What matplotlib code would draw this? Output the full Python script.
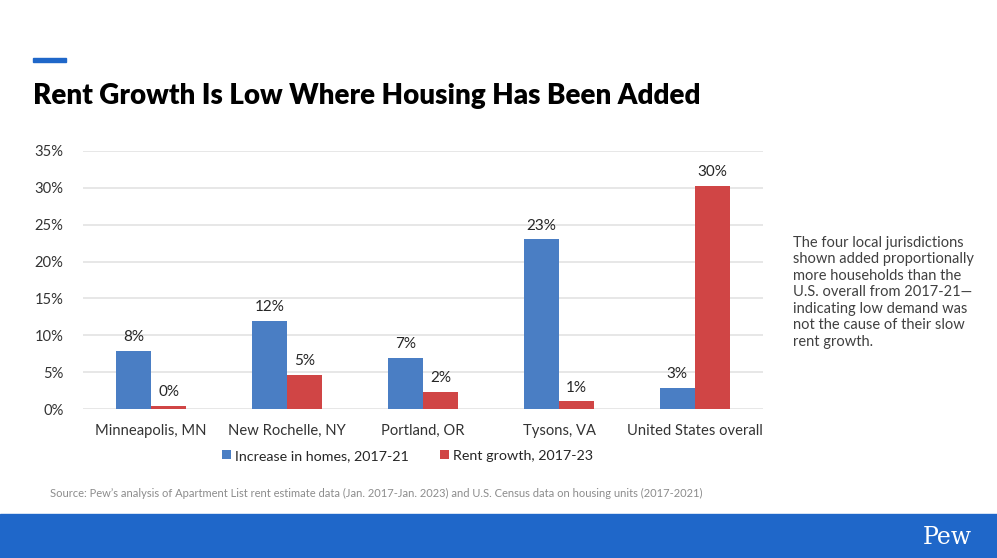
import matplotlib.pyplot as plt
from matplotlib.patches import Rectangle
import numpy as np

plt.rcParams['font.family'] = ['Lato', 'DejaVu Sans']

# data
places = ["Minneapolis, MN", "New Rochelle, NY", "Portland, OR", "Tysons, VA", "United States overall"]
homes_increase = [7.9, 11.95, 6.95, 23.0, 2.9]
rent_growth = [0.4, 4.6, 2.35, 1.05, 30.3]
series_names = ["Increase in homes, 2017-21", "Rent growth, 2017-23"]
y_ticks = [0, 5, 10, 15, 20, 25, 30, 35]

blue = "#4a7ec4"
red = "#d04545"
pew_blue = "#1f67c9"

fig = plt.figure(figsize=(9.97, 5.58), dpi=100)
ax = fig.add_axes([0.0833, 0.267, 0.682, 0.4624])

x = np.arange(len(places))
w = 0.26
b1 = ax.bar(x - w / 2, homes_increase, w, color=blue, label=series_names[0])
b2 = ax.bar(x + w / 2, rent_growth, w, color=red, label=series_names[1])

for bars, vals in [(b1, homes_increase), (b2, rent_growth)]:
    for rect, v in zip(bars, vals):
        ax.text(rect.get_x() + rect.get_width() / 2, v + 0.9, "{:.0f}%".format(v),
                ha="center", va="bottom", fontsize=11, color="#262626")

ax.set_xlim(-0.5, len(places) - 0.5)
ax.set_ylim(0, 35)
ax.set_yticks(y_ticks)
ax.set_yticklabels(["{}%".format(t) for t in y_ticks])
ax.set_xticks(x)
ax.set_xticklabels(places)
ax.tick_params(axis="both", length=0, labelsize=10.6, labelcolor="#333333")
ax.tick_params(axis="y", pad=14)
ax.tick_params(axis="x", pad=11)
ax.grid(axis="y", color="#e3e3e3", linewidth=1.2)
ax.set_axisbelow(True)
for s in ax.spines.values():
    s.set_visible(False)

fig.legend(handles=[b1, b2], loc="center", bbox_to_anchor=(0.409, 0.183), ncol=2,
           frameon=False, fontsize=10.3, handlelength=0.6, handleheight=0.6,
           handletextpad=0.3, columnspacing=2.2, labelcolor="#262626")

# header
fig.patches.append(Rectangle((0.033, 0.889), 0.033, 0.007, transform=fig.transFigure,
                             color=pew_blue, zorder=3))
fig.text(0.033, 0.828, "Rent Growth Is Low Where Housing Has Been Added",
         fontsize=20, fontweight="heavy", color="#000000", va="center", ha="left")

# side note
note = ("The four local jurisdictions\nshown added proportionally\nmore households than the\n"
        "U.S. overall from 2017-21\u2014\nindicating low demand was\nnot the cause of their slow\n"
        "rent growth.")
fig.text(0.795, 0.577, note, fontsize=10.5, color="#404040", va="top", ha="left",
         linespacing=1.22)

# source
fig.text(0.05, 0.115, "Source: Pew\u2019s analysis of Apartment List rent estimate data (Jan. 2017-Jan. 2023) "
         "and U.S. Census data on housing units (2017-2021)",
         fontsize=8, color="#8c8c8c", va="center", ha="left")

# footer band
fig.patches.append(Rectangle((0, 0), 1, 0.079, transform=fig.transFigure,
                             color=pew_blue, zorder=1))
fig.text(0.975, 0.037, "Pew", fontsize=17, color="white", family=["DejaVu Serif"],
         va="center", ha="right")

fig.savefig("out.png", dpi=100)
